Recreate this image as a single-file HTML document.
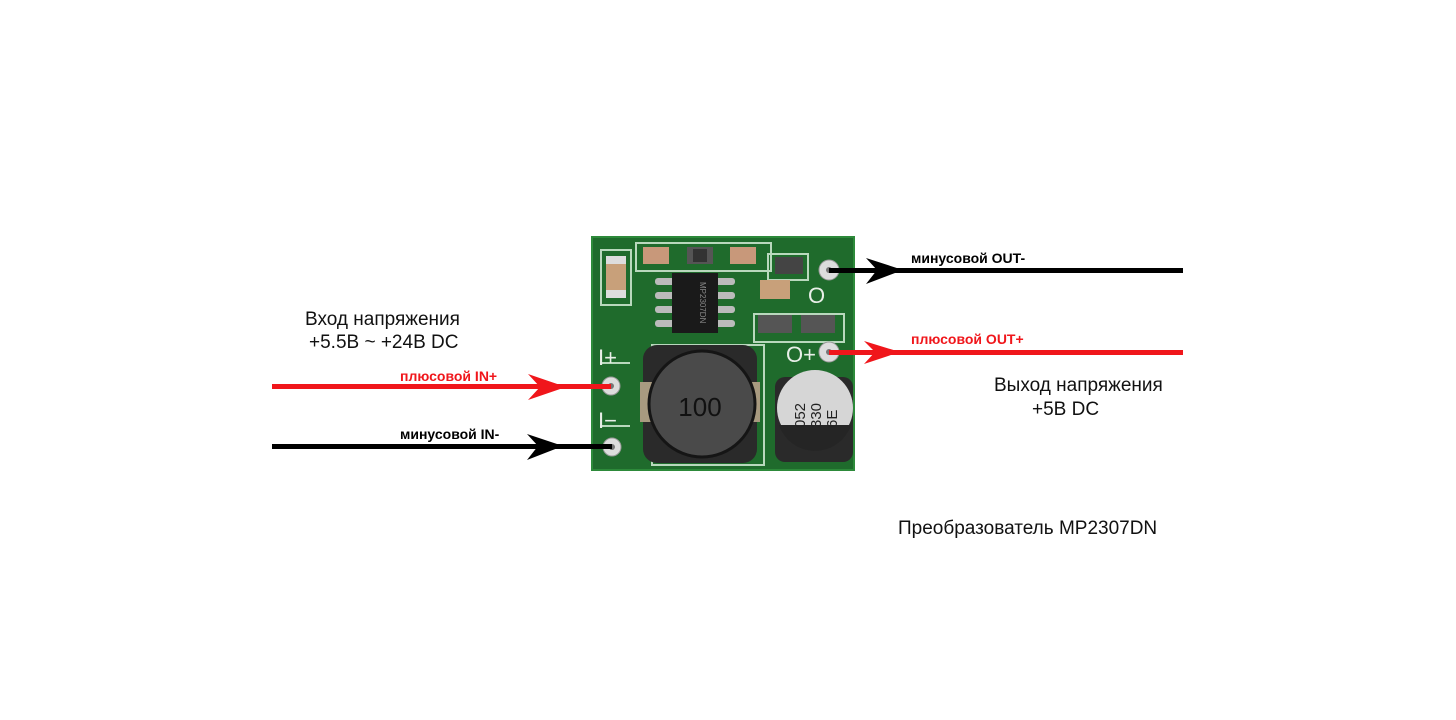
<!DOCTYPE html>
<html><head><meta charset="utf-8"><style>
html,body{margin:0;padding:0;background:#fff;}
svg{display:block;}
text{font-family:"Liberation Sans",Arial,sans-serif;}
</style></head><body>
<svg width="1456" height="720" viewBox="0 0 1456 720" xmlns="http://www.w3.org/2000/svg">
<rect width="1456" height="720" fill="#fff"/>
<!-- PCB -->
<rect x="592" y="237" width="262" height="233" fill="#1f6b2c"/>
<rect x="592" y="237" width="262" height="233" fill="none" stroke="#2d8a3a" stroke-width="2"/>
<g fill="none" stroke="#b9d8bd" stroke-width="2">
<rect x="636" y="243" width="135" height="28"/>
<rect x="601" y="250" width="30" height="55"/>
<rect x="652" y="345" width="112" height="120"/>
<rect x="754" y="314" width="90" height="28"/>
<rect x="768" y="254" width="40" height="26"/>
<path d="M600 363 H630 M600 426 H630"/>
</g>
<!-- SMD parts -->
<g>
<rect x="606" y="256" width="20" height="42" fill="#c8a07a"/><rect x="606" y="256" width="20" height="8" fill="#ddd"/><rect x="606" y="290" width="20" height="8" fill="#ddd"/>
<rect x="643" y="247" width="26" height="17" fill="#c8987a"/>
<rect x="687" y="247" width="26" height="17" fill="#555"/><rect x="693" y="249" width="14" height="13" fill="#333"/>
<rect x="730" y="247" width="26" height="17" fill="#c8987a"/>
<rect x="775" y="257" width="28" height="17" fill="#444"/>
<rect x="760" y="280" width="30" height="19" fill="#c8a07a"/>
<rect x="758" y="315" width="34" height="18" fill="#555"/>
<rect x="801" y="315" width="34" height="18" fill="#555"/>
</g>
<!-- IC -->
<g fill="#bbb"><rect x="655" y="278" width="20" height="7" rx="3"/><rect x="655" y="292" width="20" height="7" rx="3"/><rect x="655" y="306" width="20" height="7" rx="3"/><rect x="655" y="320" width="20" height="7" rx="3"/>
<rect x="715" y="278" width="20" height="7" rx="3"/><rect x="715" y="292" width="20" height="7" rx="3"/><rect x="715" y="306" width="20" height="7" rx="3"/><rect x="715" y="320" width="20" height="7" rx="3"/></g>
<rect x="672" y="273" width="46" height="60" fill="#1a1a1a"/>
<text x="0" y="0" font-size="8" fill="#888" transform="translate(700,282) rotate(90)">MP2307DN</text>
<!-- Inductor -->
<rect x="643" y="345" width="114" height="118" rx="14" fill="#2a2a2a"/>
<rect x="640" y="382" width="12" height="40" fill="#a89a80"/><rect x="748" y="382" width="12" height="40" fill="#a89a80"/>
<circle cx="702" cy="404" r="53" fill="#4a4a4a" stroke="#151515" stroke-width="3"/>
<text x="700" y="416" font-size="26" text-anchor="middle" fill="#111" font-family="Liberation Sans Narrow,Liberation Sans,sans-serif">100</text>
<!-- Capacitor -->
<rect x="775" y="377" width="78" height="85" rx="10" fill="#2a2a2a"/>
<circle cx="815" cy="408" r="38" fill="#d6d6d6"/>
<path d="M779 425 A38 38 0 0 0 851 425 Z" fill="#252525"/>
<text font-size="15" fill="#222" font-family="Liberation Mono,monospace" transform="translate(805,428) rotate(-90)">052</text>
<text font-size="15" fill="#222" font-family="Liberation Mono,monospace" transform="translate(821,428) rotate(-90)">330</text>
<text font-size="15" fill="#222" font-family="Liberation Mono,monospace" transform="translate(837,428) rotate(-90)">6E</text>
<!-- silkscreen labels -->
<g fill="#e8efe8" font-family="Liberation Serif,serif" font-size="22">
<text x="598" y="365">I+</text><text x="598" y="428">I−</text>
<text x="786" y="362">O+</text><text x="808" y="303">O</text>
</g>
<!-- pads -->
<g fill="#ddd" stroke="#999"><circle cx="611" cy="386" r="9"/><circle cx="612" cy="447" r="9"/><circle cx="829" cy="270" r="10"/><circle cx="829" cy="352" r="10"/></g>
<g fill="#777"><circle cx="611" cy="386" r="3"/><circle cx="612" cy="447" r="3"/><circle cx="829" cy="270" r="3"/><circle cx="829" cy="352" r="3"/></g>
<!-- wires -->
<rect x="272" y="384" width="339" height="5" fill="#f0161b"/>
<path d="M566 387 L528 374 L540 387 L528 400 Z" fill="#f0161b"/>
<rect x="272" y="444" width="340" height="5" fill="#000"/>
<path d="M563 446 L527 434 L538 446 L527 460 Z" fill="#000"/>
<rect x="829" y="268" width="354" height="5" fill="#000"/>
<path d="M903 270 L866 258 L877 270 L866 284 Z" fill="#000"/>
<rect x="829" y="350" width="354" height="5" fill="#f0161b"/>
<path d="M900 352 L864 341 L875 352 L864 364 Z" fill="#f0161b"/>
<!-- texts -->
<g font-size="19" fill="#111">
<text x="305" y="325">Вход напряжения</text>
<text x="309" y="348">+5.5B ~ +24B DC</text>
<text x="994" y="391">Выход напряжения</text>
<text x="1032" y="415">+5B DC</text>
<text x="898" y="534">Преобразователь MP2307DN</text>
</g>
<g font-size="14" font-weight="bold">
<text x="400" y="381" fill="#f0161b">плюсовой IN+</text>
<text x="400" y="439" fill="#000">минусовой IN-</text>
<text x="911" y="263" fill="#000">минусовой OUT-</text>
<text x="911" y="344" fill="#f0161b">плюсовой OUT+</text>
</g>
</svg>
</body></html>
